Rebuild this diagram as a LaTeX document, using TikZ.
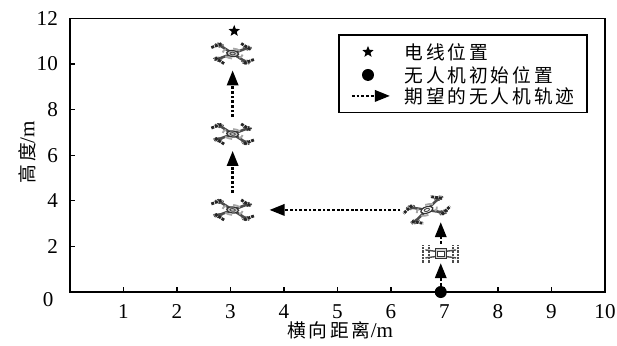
\documentclass[tikz,border=0pt]{standalone}
\usepackage{fontspec}
\setmainfont{Liberation Serif}
\newfontfamily\cjk[LetterSpace=15]{Noto Sans CJK SC}
\newcommand\cnfont{\fontsize{16}{19}\cjk}
\usepackage{tikz}
\usetikzlibrary{arrows.meta,shapes.geometric}

\begin{document}
\begin{tikzpicture}[
    x=1.605cm, y=0.684cm,
    font=\fontsize{18}{21}\selectfont,
    cn/.style={font=\cnfont},
    frame/.style={line width=1pt},
    traj/.style={dash pattern=on 2.4pt off 1.6pt,line width=2pt,-{Triangle[length=0.45cm,width=0.34cm]}},
    slot/.style={rectangle,inner sep=0pt,minimum width=1.5cm,minimum height=0.72cm},
    dot/.style={circle,fill=black,inner sep=0pt,minimum size=0.36cm},
    wire/.style={star,star points=5,star point ratio=2.3,fill=black,inner sep=0pt,minimum size=0.36cm},
    uav/.pic={
      \begin{scope}[yscale=0.5]
        \foreach \a in {45,135,225,315}{
          \filldraw[fill=gray!45,draw=black!70,line width=0.7pt,dash pattern=on 1.5pt off 1pt]
            (\a:0.6cm) circle (0.13cm);
          \draw[line width=2.2pt,black!70] (0,0) -- (\a:0.6cm);
          \draw[line width=2.4pt,black!85,dash pattern=on 2.5pt off 0.8pt]
            ([shift={(\a:0.62cm)}]\a-90:0.1cm) -- ([shift={(\a:0.62cm)}]\a+90:0.32cm);
          \draw[line width=1.6pt,gray!70] (\a:0.3cm) arc[start angle=\a,delta angle=45,radius=0.3cm];
        }
        \filldraw[fill=#1,draw=black!80,line width=1pt] (0,0) circle (0.18cm);
        \draw[black!70,line width=0.8pt] (0,0) circle (0.08cm);
      \end{scope}
    },
    uavfront/.pic={
      \foreach \s in {-1,1}{
        \draw[line width=1.2pt,black!70] (\s*0.17cm,0.08cm) -- (\s*0.46cm,0.12cm);
        \draw[line width=1.2pt,black!70] (\s*0.17cm,-0.08cm) -- (\s*0.46cm,-0.12cm);
        \draw[line width=1.8pt,gray!60!black,dash pattern=on 2pt off 0.8pt] (\s*0.36cm,-0.26cm) -- (\s*0.36cm,0.26cm);
        \draw[line width=1.8pt,gray!60!black,dash pattern=on 2pt off 0.8pt] (\s*0.52cm,-0.26cm) -- (\s*0.52cm,0.26cm);
      }
      \filldraw[fill=gray!35,draw=black!80,line width=0.8pt] (-0.17cm,-0.15cm) rectangle (0.17cm,0.15cm);
      \filldraw[fill=white,draw=black!80,line width=0.6pt] (-0.1cm,-0.08cm) rectangle (0.1cm,0.09cm);
    }
]
\useasboundingbox (-1.308,-2.325) rectangle (10.224,12.807);

% Axes
\draw[frame] (0,0) rectangle (10,12);
\foreach \x in {1,...,9}
  \draw[frame] (\x,0) -- ++(0,0.15cm);
\foreach \y in {2,4,...,10}
  \draw[frame] (0,\y) -- ++(0.15cm,0);
\foreach \x in {1,...,10}
  \node at (\x,-0.85) {\x};
\foreach \y in {2,4,...,12}
  \node[anchor=east] at (-0.15,\y) {\y};
\node at (-0.41,-0.35) {0};
\node at (5.05,-1.68) {{\cnfont 横向距离}/m};
\node[rotate=90] at (-0.8,6.14) {{\cnfont 高度}/m};

% Flight positions
\node[slot] (top) at (3.04,10.46) {};
\node[slot] (mid) at (3.04,6.93) {};
\node[slot] (left) at (3.04,3.6) {};
\node[slot] (tilt) at (6.67,3.6) {};
\node[slot,minimum width=1.1cm,minimum height=0.54cm] (lift) at (6.93,1.67) {};
\node[dot] (start) at (6.93,0) {};
\node[wire] (line) at (3.07,11.45) {};

\pic[rotate=-6] at (top) {uav=gray!45};
\pic[rotate=-6] at (mid) {uav=gray!45};
\pic[rotate=-6] at (left) {uav=gray!45};
\pic[rotate=18,scale=1.05] at (tilt) {uav=white};
\pic at (lift) {uavfront};

% Trajectory
\draw[traj] (start) -- (lift);
\draw[traj,shorten <=1pt] (lift) -- (lift |- tilt.south);
\draw[traj,shorten <=1pt,shorten >=0.35cm] (tilt) -- (left);
\draw[traj,shorten <=4pt,shorten >=4pt] (left) -- (mid);
\draw[traj,shorten <=4pt,shorten >=4pt] (mid) -- (top);

% Legend
\node[draw,frame,rectangle,inner sep=0pt,minimum width=7.44cm,minimum height=2.31cm] (legend) at (7.345,9.58) {};
\node[wire] (lgwire) at (5.57,10.53) {};
\node[anchor=west,cn] at (6.18,10.53) {电线位置};
\node[dot] (lgdot) at (5.57,9.52) {};
\node[anchor=west,cn] at (6.18,9.52) {无人机初始位置};
\coordinate (lga) at (5.27,8.6);
\coordinate (lgb) at (5.98,8.6);
\draw[traj] (lga) -- (lgb);
\node[anchor=west,cn] at (6.18,8.6) {期望的无人机轨迹};
\end{tikzpicture}
\end{document}
